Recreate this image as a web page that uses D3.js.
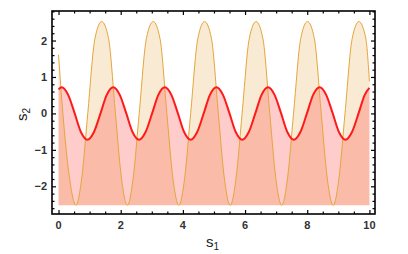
<!DOCTYPE html>
<meta charset="utf-8">
<script src="https://d3js.org/d3.v7.min.js"></script>
<style>
  body { margin: 0; background: #fff; }
  text { font-family: "Liberation Sans", Arial, sans-serif; }
</style>
<div id="my_dataviz"></div>
<script>

// orange curve (s2 large oscillation)
var orangeX = [0, 0.14, 0.35,
  0.56, 0.75, 0.94, 1.17, 1.39, 1.61, 1.83, 2.02,
  2.215, 2.405, 2.595, 2.825, 3.045, 3.265, 3.485, 3.675,
  3.87, 4.06, 4.25, 4.48, 4.70, 4.92, 5.14, 5.33,
  5.525, 5.715, 5.905, 6.135, 6.355, 6.575, 6.795, 6.985,
  7.18, 7.37, 7.56, 7.79, 8.01, 8.23, 8.45, 8.64,
  8.835, 9.025, 9.215, 9.445, 9.665, 9.885, 10];
var orangeY = [1.61, 0, -1.75,
  -2.52, -1.75, 0, 2.05, 2.52, 2.05, 0, -1.75,
  -2.52, -1.75, 0, 2.05, 2.52, 2.05, 0, -1.75,
  -2.52, -1.75, 0, 2.05, 2.52, 2.05, 0, -1.75,
  -2.52, -1.75, 0, 2.05, 2.52, 2.05, 0, -1.75,
  -2.52, -1.75, 0, 2.05, 2.52, 2.05, 0, -1.75,
  -2.52, -1.75, 0, 2.05, 2.52, 2.05, 0.88];

// red curve (small oscillation)
var redX = [0, 0.10, 0.31, 0.52, 0.72, 0.93, 1.14, 1.35, 1.55,
  1.76, 1.97, 2.18, 2.38, 2.59, 2.80, 3.01, 3.21,
  3.42, 3.63, 3.84, 4.04, 4.25, 4.46, 4.67, 4.87,
  5.08, 5.29, 5.50, 5.70, 5.91, 6.12, 6.33, 6.53,
  6.74, 6.95, 7.16, 7.36, 7.57, 7.78, 7.99, 8.19,
  8.40, 8.61, 8.82, 9.02, 9.23, 9.44, 9.65, 9.85, 10];
var redY = [0.66, 0.72, 0.51, 0, -0.51, -0.72, -0.51, 0, 0.51,
  0.72, 0.51, 0, -0.51, -0.72, -0.51, 0, 0.51,
  0.72, 0.51, 0, -0.51, -0.72, -0.51, 0, 0.51,
  0.72, 0.51, 0, -0.51, -0.72, -0.51, 0, 0.51,
  0.72, 0.51, 0, -0.51, -0.72, -0.51, 0, 0.51,
  0.72, 0.51, 0, -0.51, -0.72, -0.51, 0, 0.51, 0.70];

var fillBase = -2.52;
var xTicks = [0, 2, 4, 6, 8, 10];
var yTicks = [-2, -1, 0, 1, 2];

var orange = orangeX.map(function(x, i) { return {x: x, y: orangeY[i]}; });
var red = redX.map(function(x, i) { return {x: x, y: redY[i]}; });

var W = 408, H = 254;
var pLeft = 52, pRight = 375, pTop = 11, pBottom = 214;

var svg = d3.select("#my_dataviz")
  .append("svg")
    .attr("width", W)
    .attr("height", H);

var x = d3.scaleLinear()
  .domain([-0.21, 10.18])
  .range([pLeft, pRight]);

var y = d3.scaleLinear()
  .domain([-2.76, 2.81])
  .range([pBottom, pTop]);

var area = d3.area()
  .x(function(d) { return x(d.x); })
  .y0(y(fillBase))
  .y1(function(d) { return y(d.y); })
  .curve(d3.curveMonotoneX);

var line = d3.line()
  .x(function(d) { return x(d.x); })
  .y(function(d) { return y(d.y); })
  .curve(d3.curveMonotoneX);

// fills (semi transparent, overlap gives the salmon colour)
svg.append("path")
  .attr("d", area(orange))
  .attr("fill", "#e19c24")
  .attr("fill-opacity", 0.2);

svg.append("path")
  .attr("d", area(red))
  .attr("fill", "#ff0000")
  .attr("fill-opacity", 0.2);

svg.append("path")
  .attr("d", line(orange))
  .attr("fill", "none")
  .attr("stroke", "#e5a53a")
  .attr("stroke-width", 1);

svg.append("path")
  .attr("d", line(red))
  .attr("fill", "none")
  .attr("stroke", "#ff1a1a")
  .attr("stroke-width", 2);

// frame ticks point inward: majors + minors
function tickSets(majors, minorStep, lo, hi) {
  var minors = d3.range(lo, hi + 1e-9, minorStep).filter(function(v) {
    return majors.every(function(m) { return Math.abs(m - v) > 1e-6; });
  });
  return { majors: majors, minors: minors };
}

var xt = tickSets(xTicks, 0.5, 0, 10);
var yt = tickSets(yTicks, 0.2, -2.6, 2.8);

function addTicks(pos, axisFn, scale, sets) {
  var g = svg.append("g").attr("transform", pos);
  g.append("g").call(axisFn(scale).tickValues(sets.majors).tickSize(4).tickFormat(""));
  g.append("g").call(axisFn(scale).tickValues(sets.minors).tickSize(2.5).tickFormat(""));
}

addTicks("translate(0," + pBottom + ")", d3.axisTop, x, xt);
addTicks("translate(0," + pTop + ")", d3.axisBottom, x, xt);
addTicks("translate(" + pLeft + ",0)", d3.axisRight, y, yt);
addTicks("translate(" + pRight + ",0)", d3.axisLeft, y, yt);

svg.selectAll(".domain").remove();
svg.selectAll(".tick line").attr("stroke", "#000").attr("stroke-width", 1.2);

svg.append("rect")
  .attr("x", pLeft).attr("y", pTop)
  .attr("width", pRight - pLeft).attr("height", pBottom - pTop)
  .attr("fill", "none")
  .attr("stroke", "#000")
  .attr("stroke-width", 1.6);

// tick labels
svg.selectAll(".xlab")
  .data(xTicks)
  .enter().append("text")
    .attr("class", "xlab")
    .attr("x", function(d) { return x(d); })
    .attr("y", 229)
    .attr("text-anchor", "middle")
    .attr("font-size", 11)
    .attr("font-weight", "bold")
    .attr("fill", "#333")
    .text(function(d) { return d; });

svg.selectAll(".ylab")
  .data(yTicks)
  .enter().append("text")
    .attr("class", "ylab")
    .attr("x", 47)
    .attr("y", function(d) { return y(d) + 4; })
    .attr("text-anchor", "end")
    .attr("font-size", 11)
    .attr("font-weight", "bold")
    .attr("fill", "#333")
    .text(function(d) { return d < 0 ? "\u2212" + Math.abs(d) : d; });

// axis titles
var xl = svg.append("text")
  .attr("x", 206).attr("y", 247)
  .attr("font-size", 15)
  .attr("fill", "#222");
xl.append("tspan").text("s");
xl.append("tspan").attr("font-size", 10).attr("dy", 3).text("1");

var yl = svg.append("text")
  .attr("transform", "translate(27,121) rotate(-90)")
  .attr("font-size", 15)
  .attr("fill", "#222");
yl.append("tspan").text("s");
yl.append("tspan").attr("font-size", 10).attr("dy", 3).text("2");

</script>
